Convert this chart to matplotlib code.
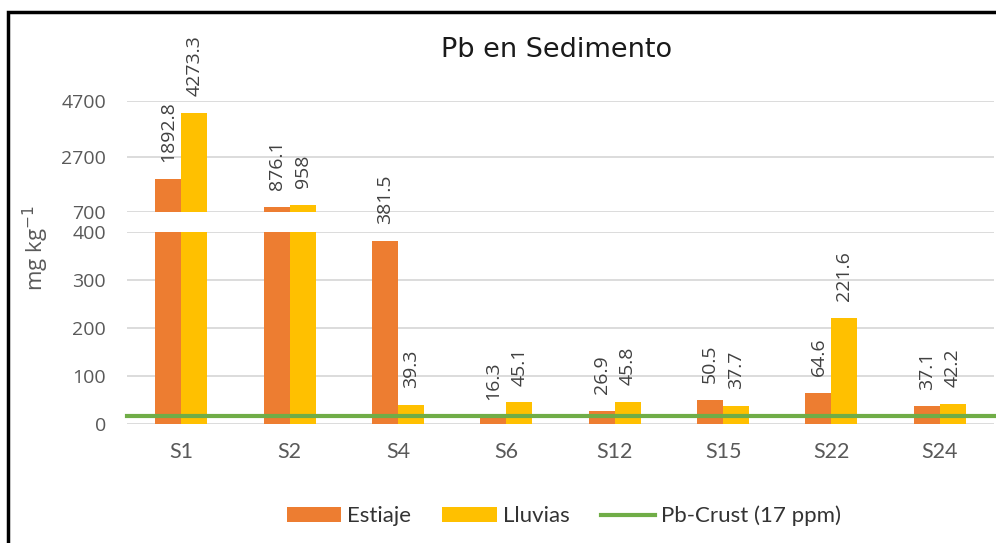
import matplotlib
matplotlib.use('Agg')
import matplotlib.pyplot as plt
from matplotlib.patches import Rectangle
import numpy as np

sites = ['S1', 'S2', 'S4', 'S6', 'S12', 'S15', 'S22', 'S24']
estiaje = [1892.8, 876.1, 381.5, 16.3, 26.9, 50.5, 64.6, 37.1]
lluvias = [4273.3, 958, 39.3, 45.1, 45.8, 37.7, 221.6, 42.2]
crust = 17
low_ticks = [0, 100, 200, 300, 400]
high_ticks = [700, 2700, 4700]

c_est = '#ED7D31'
c_llu = '#FFC000'
c_crust = '#70AD47'
grid_c = '#D9D9D9'
tick_c = '#595959'

W, H = 996, 543
fig = plt.figure(figsize=(W / 100, H / 100), dpi=100)
left = 127 / W
width = (994 - 127) / W
ax_top = fig.add_axes([left, 1 - 212 / H, width, (212 - 101) / H])
ax_bot = fig.add_axes([left, 1 - 424 / H, width, (424 - 232) / H])

x = np.arange(len(sites))
bw = 0.24

for ax in (ax_top, ax_bot):
    b1 = ax.bar(x - bw / 2, estiaje, bw, color=c_est, zorder=2)
    b2 = ax.bar(x + bw / 2, lluvias, bw, color=c_llu, zorder=2)
    ax.set_xlim(-0.5, len(sites) - 0.5)
    for s in ax.spines.values():
        s.set_visible(False)
    ax.yaxis.grid(True, color=grid_c, lw=1.3, zorder=0)
    ax.set_axisbelow(True)
    ax.tick_params(axis='y', length=0, pad=15, labelsize=14, labelcolor=tick_c)

ax_top.set_ylim(700, 4700)
ax_top.set_yticks(high_ticks)
ax_top.set_xticks([])
ax_bot.set_ylim(0, 400)
ax_bot.set_yticks(low_ticks)
ax_bot.set_xticks(x, sites)
ax_bot.tick_params(axis='x', length=0, pad=13, labelsize=15.5, labelcolor=tick_c)
for lab in ax_top.get_yticklabels() + ax_bot.get_yticklabels():
    lab.set_family('Open Sans')
for lab in ax_bot.get_xticklabels():
    lab.set_family('Lato')

line = ax_bot.axhline(crust, color=c_crust, lw=3, zorder=3, xmax=1.003, clip_on=False)

# value labels
for vals, off in ((estiaje, -bw / 2), (lluvias, bw / 2)):
    for i, v in enumerate(vals):
        ax = ax_top if v > 400 else ax_bot
        ax.annotate(f'{v:g}', xy=(x[i] + off, v), xytext=(0, 12),
                    textcoords='offset points', rotation=90, ha='center',
                    va='bottom', fontsize=14, color='#404040',
                    family='Open Sans', annotation_clip=False)

fig.text(557 / W, 1 - 50 / H, 'Pb en Sedimento', ha='center', va='center',
         fontsize=19.5, color='#1a1a1a', family='DejaVu Sans')
fig.text(36 / W, 1 - 248 / H, 'mg kg$^{-1}$', rotation=90, ha='center',
         va='center', fontsize=16, color=tick_c, family='Open Sans')

fig.legend([b1, b2, line], ['Estiaje', 'Lluvias', 'Pb-Crust (17 ppm)'],
           loc='center', bbox_to_anchor=(564 / W, 1 - 516 / H), ncol=3,
           frameon=False, prop={'family': 'Lato', 'size': 16},
           labelcolor='#333333', handlelength=2.45, handleheight=0.63,
           handletextpad=0.27, columnspacing=1.4)

fig.add_artist(Rectangle((8 / W, -0.1), 1.2, 1 - 12 / H + 0.1,
                         transform=fig.transFigure, fill=False,
                         edgecolor='black', lw=2.5))

fig.savefig('out.png', dpi=100, facecolor='white')
